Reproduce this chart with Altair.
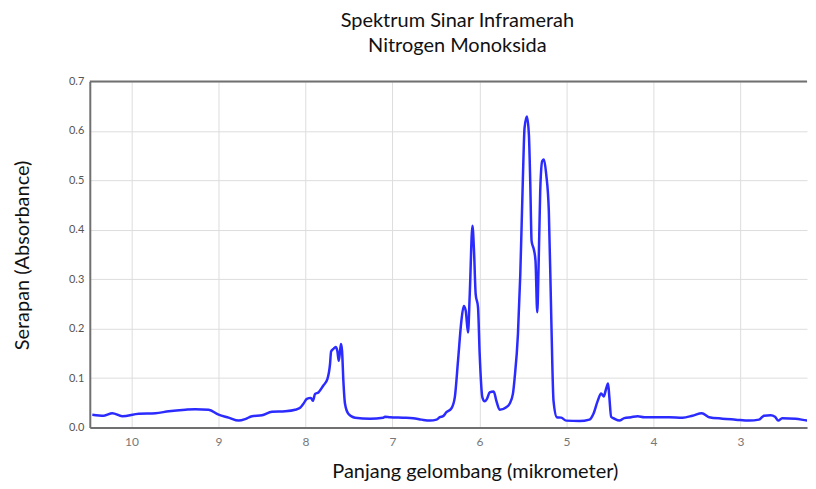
import altair as alt
import pandas as pd

# Wavelength (micrometer) and absorbance values
wavelength = [10.451, 10.318, 10.221, 10.107, 9.916, 9.725, 9.572, 9.381, 9.266, 9.114,
              8.999, 8.884, 8.769, 8.693, 8.616, 8.501, 8.386, 8.234, 8.119, 8.062,
              8.024, 7.985, 7.939, 7.916, 7.890, 7.852, 7.795, 7.749, 7.718, 7.706,
              7.680, 7.653, 7.634, 7.618, 7.603, 7.592, 7.580, 7.565, 7.546, 7.508,
              7.431, 7.259, 7.107, 7.087, 7.030, 6.877, 6.763, 6.666, 6.571, 6.494,
              6.456, 6.419, 6.380, 6.322, 6.284, 6.247, 6.208, 6.181, 6.158, 6.132,
              6.112, 6.081, 6.063, 6.044, 6.017, 5.998, 5.967, 5.940, 5.914, 5.883,
              5.837, 5.806, 5.768, 5.692, 5.654, 5.616, 5.596, 5.558, 5.531, 5.501,
              5.482, 5.455, 5.432, 5.416, 5.401, 5.375, 5.356, 5.336, 5.321, 5.302,
              5.279, 5.260, 5.233, 5.203, 5.175, 5.149, 5.111, 5.061, 5.003, 4.851,
              4.736, 4.690, 4.641, 4.602, 4.572, 4.545, 4.522, 4.507, 4.487, 4.450,
              4.392, 4.335, 4.258, 4.182, 4.106, 3.971, 3.819, 3.666, 3.552, 3.444,
              3.360, 3.208, 3.054, 2.901, 2.787, 2.729, 2.653, 2.603, 2.565, 2.520,
              2.366, 2.213, 2.113]
absorbance = [0.026, 0.024, 0.029, 0.023, 0.028, 0.029, 0.033, 0.036, 0.037, 0.036,
              0.026, 0.020, 0.014, 0.017, 0.023, 0.025, 0.032, 0.033, 0.036, 0.040,
              0.048, 0.058, 0.060, 0.054, 0.068, 0.071, 0.085, 0.098, 0.129, 0.154,
              0.159, 0.163, 0.155, 0.135, 0.155, 0.169, 0.155, 0.095, 0.048, 0.028,
              0.020, 0.018, 0.020, 0.022, 0.021, 0.020, 0.019, 0.016, 0.014, 0.016,
              0.021, 0.023, 0.031, 0.039, 0.061, 0.135, 0.216, 0.246, 0.236, 0.192,
              0.270, 0.408, 0.357, 0.270, 0.243, 0.149, 0.061, 0.053, 0.058, 0.071,
              0.073, 0.054, 0.036, 0.041, 0.048, 0.068, 0.100, 0.189, 0.310, 0.505,
              0.606, 0.629, 0.592, 0.492, 0.377, 0.360, 0.337, 0.233, 0.323, 0.478,
              0.539, 0.542, 0.512, 0.438, 0.223, 0.054, 0.021, 0.020, 0.014, 0.013,
              0.016, 0.028, 0.054, 0.069, 0.063, 0.078, 0.089, 0.061, 0.022, 0.018,
              0.014, 0.019, 0.021, 0.023, 0.021, 0.021, 0.021, 0.020, 0.024, 0.029,
              0.021, 0.018, 0.016, 0.014, 0.016, 0.024, 0.025, 0.022, 0.014, 0.019,
              0.018, 0.014, 0.014]

x_ticks = [3, 4, 5, 6, 7, 8, 9, 10]
y_ticks = [0.0, 0.1, 0.2, 0.3, 0.4, 0.5, 0.6, 0.7]
x_domain = [2.235, 10.48]
y_domain = [0.0, 0.7]

title_lines = ["Spektrum Sinar Inframerah", "Nitrogen Monoksida"]
x_title = "Panjang gelombang (mikrometer)"
y_title = "Serapan (Absorbance)"

W, H = 719, 347
FONT = "Lato"

df = pd.DataFrame({"wl": wavelength, "ab": absorbance})

line = alt.Chart(df).mark_line(color="#2b2bff", strokeWidth=2.5, clip=True,
                               interpolate="monotone").encode(
    x=alt.X("wl:Q",
            scale=alt.Scale(domain=x_domain, reverse=True, nice=False, zero=False),
            axis=alt.Axis(values=x_ticks, format="d", title=x_title, ticks=False,
                          labelPadding=9, labelFontSize=12, labelColor="#777777",
                          labelFont=FONT, titleFont=FONT, titleFontSize=20,
                          titleFontWeight="normal", titleColor="#111111",
                          titlePadding=14, titleX=386,
                          domainColor="#707070", domainWidth=2,
                          gridColor="#dddddd", gridWidth=1)),
    y=alt.Y("ab:Q",
            scale=alt.Scale(domain=y_domain, nice=False, zero=False),
            axis=alt.Axis(values=y_ticks, format=".1f", title=y_title, ticks=False,
                          labelPadding=6, labelFontSize=11, labelColor="#555555",
                          labelFont=FONT, titleFont=FONT, titleFontSize=20,
                          titleFontWeight="normal", titleColor="#111111",
                          titleX=-67, titleY=174, titleBaseline="middle",
                          domainColor="#707070", domainWidth=2,
                          gridColor="#dddddd", gridWidth=1)),
)

top_border = alt.Chart(pd.DataFrame({"a": [0]})).mark_rule(
    color="#707070", strokeWidth=2
).encode(x=alt.value(0), x2=alt.value(W), y=alt.value(0))

chart = alt.layer(line, top_border).properties(
    width=W, height=H,
    padding={"left": 5, "top": 2, "right": 0, "bottom": 0},
    title=alt.TitleParams(text=title_lines, font=FONT, fontSize=20,
                          fontWeight="normal", color="#111111",
                          lineHeight=26, anchor="middle", dx=9, offset=19),
).configure_view(strokeWidth=0)

chart.save("out.html", embed_options={"renderer": "svg", "actions": False})
